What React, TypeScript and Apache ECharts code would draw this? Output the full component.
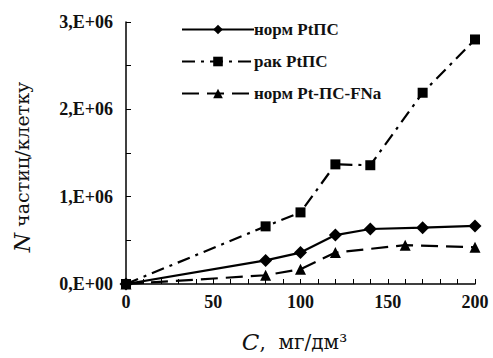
import React, { useEffect, useRef } from "react";
import * as echarts from "echarts";

const seriesNames = ["норм PtПС", "рак PtПС", "норм Pt-ПС-FNa"];
const normX = [0, 80, 100, 120, 140, 170, 200];
const normY = [0, 0.27e6, 0.36e6, 0.56e6, 0.63e6, 0.645e6, 0.665e6];
const rakX = [0, 80, 100, 120, 140, 170, 200];
const rakY = [0, 0.66e6, 0.82e6, 1.37e6, 1.36e6, 2.19e6, 2.8e6];
const fnaX = [0, 80, 100, 120, 160, 200];
const fnaY = [0, 0.1e6, 0.17e6, 0.36e6, 0.445e6, 0.42e6];

const zip = (xs: number[], ys: number[]) => xs.map((x, i) => [x, ys[i]]);

export default function App() {
  const ref = useRef<HTMLDivElement>(null);
  useEffect(() => {
    if (!ref.current) return;
    const chart = echarts.init(ref.current, undefined, { renderer: "svg" });
    const serif = "Liberation Serif";
    const titleFont = "DejaVu Serif";
    chart.setOption({
      animation: false,
      backgroundColor: "#fff",
      textStyle: { fontFamily: serif },
      grid: { left: 126, right: 18, top: 22, bottom: 71 },
      legend: {
        left: 176,
        top: 16,
        orient: "vertical",
        itemWidth: 72,
        itemHeight: 12,
        itemGap: 15,
        textStyle: { fontFamily: serif, fontWeight: "bold", fontSize: 17, color: "#111", padding: [0, 0, 0, -5] },
        data: seriesNames,
      },
      graphic: [
        {
          type: "text",
          x: 22,
          y: 167,
          rotation: Math.PI / 2,
          style: {
            text: "{i|N} {t|частиц/клетку}",
            fontFamily: titleFont,
            fontSize: 19,
            fill: "#111",
            align: "center",
            verticalAlign: "middle",
            rich: {
              i: { fontFamily: titleFont, fontStyle: "italic", fontSize: 22, fill: "#111", color: "#111" },
              t: { fontFamily: titleFont, fontSize: 19, fill: "#111", color: "#111" },
            },
          },
        },
      ],
      xAxis: {
        type: "value",
        min: 0,
        max: 200,
        interval: 50,
        name: "{i|C},  {t|мг/дм³}",
        nameLocation: "middle",
        nameGap: 46,
        nameTextStyle: {
          fontFamily: titleFont,
          fontSize: 20,
          color: "#111",
          padding: [0, 12, 0, 0],
          rich: {
            i: { fontFamily: titleFont, fontStyle: "italic", fontSize: 23, color: "#111" },
            t: { fontFamily: titleFont, fontSize: 20, color: "#111" },
          },
        },
        axisLine: { lineStyle: { color: "#000", width: 1.5 } },
        axisTick: { inside: true, length: 5, lineStyle: { color: "#000", width: 1 } },
        minorTick: { show: true, splitNumber: 5, length: 5, lineStyle: { color: "#000", width: 1 } },
        axisLabel: { fontFamily: serif, fontWeight: "bold", fontSize: 18, color: "#111", margin: 9 },
        splitLine: { show: false },
      },
      yAxis: {
        type: "value",
        min: 0,
        max: 3e6,
        interval: 1e6,
        axisLine: { show: true, lineStyle: { color: "#000", width: 1.5 } },
        axisTick: { inside: true, length: 5, lineStyle: { color: "#000", width: 1 } },
        minorTick: { show: true, splitNumber: 2, length: 5, lineStyle: { color: "#000", width: 1 } },
        axisLabel: {
          fontFamily: serif,
          fontWeight: "bold",
          fontSize: 18,
          color: "#111",
          margin: 13,
          formatter: (v: number) => (v === 0 ? "0,E+00" : `${Math.round(v / 1e6)},E+06`),
        },
        splitLine: { show: false },
      },
      series: [
        {
          name: seriesNames[0],
          type: "line",
          data: zip(normX, normY),
          symbol: "diamond",
          symbolSize: 13,
          itemStyle: { color: "#000" },
          lineStyle: { color: "#000", width: 2.2, type: "solid" },
        },
        {
          name: seriesNames[1],
          type: "line",
          data: zip(rakX, rakY),
          symbol: "rect",
          symbolSize: 10,
          itemStyle: { color: "#000" },
          lineStyle: { color: "#000", width: 2.2, type: [13, 6, 3, 6] },
        },
        {
          name: seriesNames[2],
          type: "line",
          data: zip(fnaX, fnaY),
          symbol: "triangle",
          symbolSize: 11,
          itemStyle: { color: "#000" },
          lineStyle: { color: "#000", width: 2.2, type: [17, 8] },
        },
      ],
    });
    return () => chart.dispose();
  }, []);
  return <div ref={ref} style={{ width: 493, height: 358, position: "absolute", left: 0, top: 0 }} />;
}
